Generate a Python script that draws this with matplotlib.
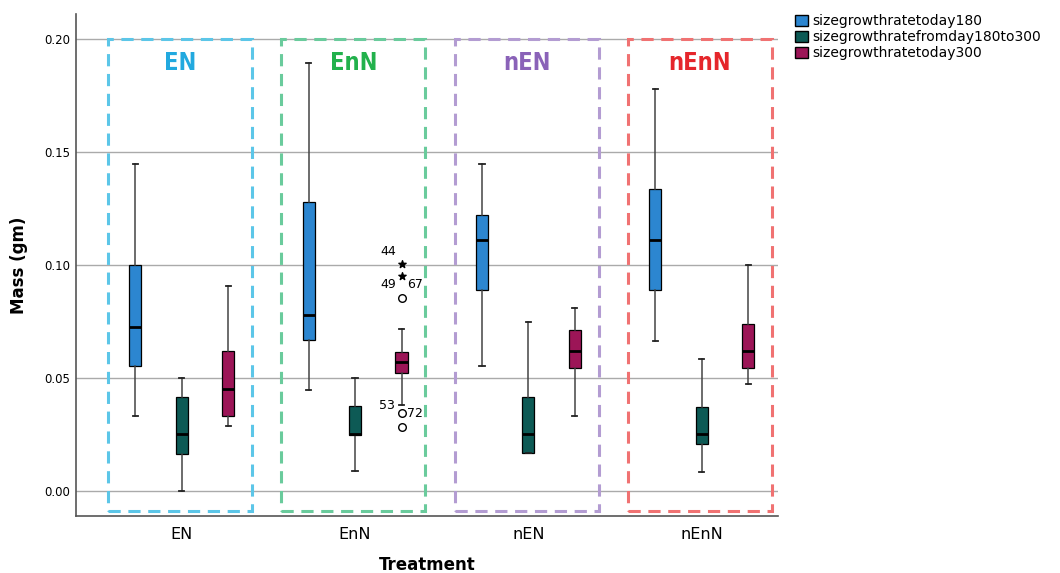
import matplotlib.pyplot as plt
from matplotlib.patches import Rectangle, Patch

treatments = ['EN', 'EnN', 'nEN', 'nEnN']
series = ['sizegrowthratetoday180', 'sizegrowthratefromday180to300', 'sizegrowthratetoday300']

# per series: lists over treatments
lo = [[0.0332, 0.0447, 0.0553, 0.0665],
      [0.0000, 0.0088, 0.0167, 0.0083],
      [0.0288, 0.0380, 0.0332, 0.0473]]
q1 = [[0.0553, 0.0668, 0.0889, 0.0889],
      [0.0164, 0.0250, 0.0167, 0.0207],
      [0.0332, 0.0523, 0.0546, 0.0546]]
med = [[0.0726, 0.0779, 0.1110, 0.1110],
       [0.0252, 0.0252, 0.0251, 0.0251],
       [0.0451, 0.0572, 0.0619, 0.0619]]
q3 = [[0.1000, 0.1279, 0.1221, 0.1336],
      [0.0416, 0.0376, 0.0415, 0.0373],
      [0.0620, 0.0616, 0.0712, 0.0739]]
hi = [[0.1447, 0.1894, 0.1447, 0.1779],
      [0.0500, 0.0500, 0.0749, 0.0583],
      [0.0907, 0.0717, 0.0808, 0.1000]]

# outliers (EnN, sizegrowthratetoday300)
star_vals = [0.1003, 0.0953]
star_ids = ['44', '49']
circ_vals = [0.0855, 0.0344, 0.0285]
circ_ids = ['67', '72', '53']

box_cols = ['#2C86D0', '#0D5A55', '#9C1557']
rect_cols = ['#5CC6E8', '#6ACB9C', '#B39CD2', '#F07272']
title_cols = ['#22A9DF', '#22B14C', '#8A62B8', '#E5262B']

fig = plt.figure(figsize=(10.6, 5.73), dpi=100)
ax = fig.add_axes([0.0717, 0.0995, 0.6623, 0.8761])

off = [-0.268, 0.0, 0.268]
for s in range(3):
    stats = []
    for t in range(4):
        stats.append(dict(whislo=lo[s][t], q1=q1[s][t], med=med[s][t],
                          q3=q3[s][t], whishi=hi[s][t], fliers=[]))
    pos = [t + off[s] for t in range(4)]
    ax.bxp(stats, positions=pos, widths=0.07, patch_artist=True,
           showfliers=False, capwidths=0.03,
           boxprops=dict(facecolor=box_cols[s], edgecolor='black', linewidth=0.9),
           medianprops=dict(color='black', linewidth=2),
           whiskerprops=dict(color='#444444', linewidth=1.1),
           capprops=dict(color='#222222', linewidth=1.3),
           zorder=3)

# outliers for EnN / day300
xo = 1 + off[2]
ax.scatter([xo] * len(star_vals), star_vals, marker='*', s=30, color='black', zorder=4)
ax.scatter([xo] * len(circ_vals), circ_vals, marker='o', s=30, facecolors='white',
           edgecolors='black', linewidths=1, zorder=4)
ax.text(xo - 0.03, star_vals[0] + 0.003, star_ids[0], ha='right', va='bottom', fontsize=9)
ax.text(xo - 0.03, circ_vals[0] + 0.003, star_ids[1], ha='right', va='bottom', fontsize=9)
ax.text(xo + 0.03, circ_vals[0] + 0.003, circ_ids[0], ha='left', va='bottom', fontsize=9)
ax.text(xo + 0.03, circ_vals[1], circ_ids[1], ha='left', va='center', fontsize=9)
ax.text(xo - 0.04, lo[2][1], circ_ids[2], ha='right', va='center', fontsize=9)

# dashed group rectangles with titles
for t in range(4):
    ax.add_patch(Rectangle((t - 0.425, -0.0088), 0.83, 0.2088, fill=False,
                           edgecolor=rect_cols[t], linestyle=(0, (4, 2.5)),
                           linewidth=2.2, zorder=2))
    ax.text(t - 0.01, 0.1894, treatments[t], ha='center', va='center',
            fontsize=17, fontweight='semibold', fontstretch='condensed',
            color=title_cols[t], family=['DejaVu Sans'], zorder=5)

ax.set_xlim(-0.61, 3.44)
ax.set_ylim(-0.011, 0.211)
ax.set_xticks(range(4))
ax.set_xticklabels(treatments, fontsize=11.5)
ax.set_yticks([0.0, 0.05, 0.10, 0.15, 0.20])
ax.set_yticklabels(['0.00', '0.05', '0.10', '0.15', '0.20'], fontsize=8.5)
ax.tick_params(axis='y', length=0, pad=4)
ax.tick_params(axis='x', length=0, pad=8)
ax.yaxis.grid(True, color='#aaaaaa', linewidth=1, zorder=0)
ax.set_axisbelow(True)
for sp in ['top', 'right']:
    ax.spines[sp].set_visible(False)
for sp in ['left', 'bottom']:
    ax.spines[sp].set_color('#555555')
    ax.spines[sp].set_linewidth(1.2)

ax.set_xlabel('Treatment', fontsize=12, fontweight='bold', labelpad=10)
ax.set_ylabel('Mass (gm)', fontsize=12, fontweight='bold', labelpad=12)

handles = [Patch(facecolor=box_cols[i], edgecolor='black', label=series[i]) for i in range(3)]
fig.legend(handles=handles, loc='upper left', bbox_to_anchor=(0.745, 0.985),
           frameon=False, fontsize=10, handlelength=0.9, handleheight=0.9,
           handletextpad=0.3, labelspacing=0.15, borderaxespad=0)

fig.savefig('out.png', dpi=100)
